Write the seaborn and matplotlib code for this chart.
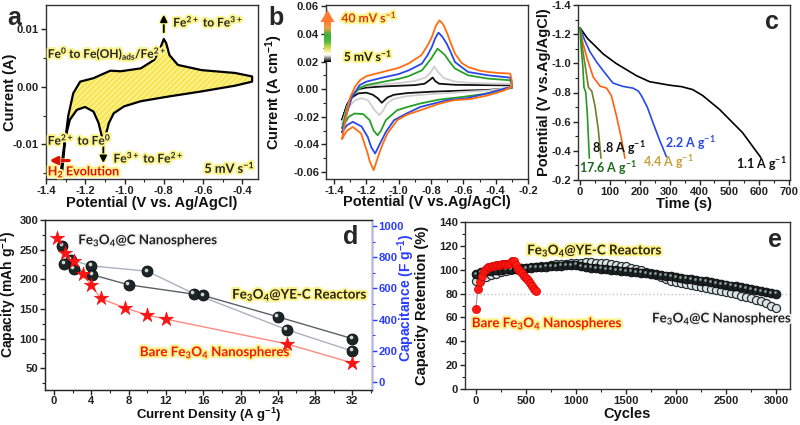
import numpy as np
import matplotlib
matplotlib.use("Agg")
import matplotlib.pyplot as plt
import matplotlib.patheffects as pe
import matplotlib.transforms as mtransforms
from matplotlib.colors import LinearSegmentedColormap
from matplotlib.patches import Polygon
from matplotlib.ticker import AutoMinorLocator, MultipleLocator, FormatStrFormatter
import seaborn as sns

# ---------------- data ----------------
# a: CV at 5 mV/s (upper branch left->right, lower branch right->left)
a_up_v = [-1.321, -1.304, -1.287, -1.261, -1.226, -1.158, -1.072, -1.020, -0.917, -0.848,
          -0.818, -0.800, -0.788, -0.771, -0.728, -0.608, -0.436, -0.350]
a_up_i = [-0.0159, -0.0098, -0.0051, -0.0011, 0.0009, 0.0015, 0.0028, 0.0027, 0.0032, 0.0047,
          0.0067, 0.0083, 0.0076, 0.0055, 0.0038, 0.0029, 0.0024, 0.0018]
a_lo_v = [-0.350, -0.436, -0.608, -0.779, -0.917, -1.003, -1.055, -1.080, -1.097, -1.106,
          -1.118, -1.132, -1.158, -1.201, -1.243, -1.278, -1.304, -1.329]
a_lo_i = [0.0009, 0.0002, -0.0008, -0.0017, -0.0025, -0.0034, -0.0046, -0.0063, -0.0086, -0.0093,
          -0.0083, -0.0063, -0.0043, -0.0035, -0.0040, -0.0057, -0.0092, -0.0159]

# b: CVs at 5..40 mV/s
b_5_v = [-1.35, -1.32, -1.29, -1.25, -1.20, -1.10, -1.00, -0.90, -0.84, -0.81, -0.79, -0.775, -0.75, -0.65, -0.50, -0.31, -0.30,
         -0.30, -0.45, -0.60, -0.80, -0.95, -1.03, -1.07, -1.105, -1.13, -1.16, -1.20, -1.25, -1.29, -1.32, -1.35]
b_5_i = [-0.022, -0.012, -0.004, 0.0, 0.0012, 0.002, 0.0025, 0.003, 0.004, 0.0065, 0.0085, 0.006, 0.004, 0.0032, 0.003, 0.0028, 0.0015,
         0.0008, -0.0005, -0.001, -0.0018, -0.0028, -0.004, -0.006, -0.0098, -0.0065, -0.004, -0.0025, -0.003, -0.006, -0.011, -0.022]
b_10_v = [-1.35, -1.32, -1.29, -1.25, -1.20, -1.10, -1.00, -0.90, -0.836, -0.80, -0.78, -0.76, -0.72, -0.65, -0.55, -0.31, -0.30,
          -0.30, -0.45, -0.60, -0.80, -0.95, -1.03, -1.07, -1.10, -1.12, -1.15, -1.19, -1.23, -1.27, -1.31, -1.35]
b_10_i = [-0.025, -0.013, -0.004, 0.0008, 0.0025, 0.0035, 0.0045, 0.006, 0.0084, 0.0125, 0.0166, 0.013, 0.008, 0.0055, 0.0045, 0.0038, 0.002,
          0.0012, -0.001, -0.002, -0.0035, -0.005, -0.007, -0.010, -0.016, -0.0188, -0.015, -0.008, -0.0065, -0.008, -0.013, -0.025]
b_20_v = [-1.35, -1.32, -1.29, -1.24, -1.20, -1.10, -1.00, -0.94, -0.856, -0.80, -0.76, -0.735, -0.713, -0.68, -0.652, -0.571, -0.448, -0.31, -0.30,
          -0.30, -0.45, -0.60, -0.75, -0.87, -0.95, -1.01, -1.08, -1.11, -1.131, -1.155, -1.18, -1.22, -1.274, -1.31, -1.35]
b_20_i = [-0.028, -0.014, -0.005, 0.001, 0.003, 0.0053, 0.0075, 0.0094, 0.0137, 0.022, 0.0294, 0.027, 0.0246, 0.019, 0.015, 0.0101, 0.0077, 0.0065, 0.003,
          0.0015, -0.003, -0.0055, -0.0075, -0.0104, -0.013, -0.0152, -0.0224, -0.030, -0.0333, -0.030, -0.0224, -0.018, -0.0176, -0.020, -0.028]
b_30_v = [-1.35, -1.32, -1.29, -1.243, -1.20, -1.10, -1.00, -0.938, -0.856, -0.82, -0.795, -0.774, -0.754, -0.73, -0.703, -0.675, -0.652, -0.571, -0.448, -0.31, -0.30,
          -0.30, -0.45, -0.58, -0.703, -0.866, -0.95, -1.029, -1.08, -1.10, -1.146, -1.17, -1.192, -1.23, -1.284, -1.32, -1.35]
b_30_i = [-0.031, -0.017, -0.006, 0.0029, 0.0055, 0.0084, 0.011, 0.0137, 0.0186, 0.025, 0.0306, 0.037, 0.041, 0.038, 0.033, 0.026, 0.0197, 0.0125, 0.0101, 0.0084, 0.004,
          0.0018, -0.003, -0.0065, -0.008, -0.0128, -0.0175, -0.0224, -0.031, -0.0357, -0.0465, -0.042, -0.0345, -0.027, -0.0236, -0.026, -0.031]
b_40_v = [-1.35, -1.33, -1.30, -1.27, -1.24, -1.20, -1.10, -1.00, -0.94, -0.86, -0.82, -0.795, -0.77, -0.748, -0.725, -0.703, -0.68, -0.652, -0.61, -0.571, -0.50, -0.448, -0.38, -0.31, -0.30,
          -0.30, -0.35, -0.45, -0.55, -0.662, -0.75, -0.866, -0.95, -1.009, -1.07, -1.10, -1.121, -1.155, -1.18, -1.192, -1.233, -1.284, -1.32, -1.351]
b_40_i = [-0.036, -0.022, -0.006, 0.002, 0.0065, 0.0095, 0.0125, 0.0155, 0.0186, 0.0246, 0.032, 0.0378, 0.046, 0.0499, 0.047, 0.0414, 0.034, 0.0258, 0.019, 0.0161, 0.0135, 0.0125, 0.0118, 0.0113, 0.006,
          0.002, -0.001, -0.0045, -0.007, -0.008, -0.0105, -0.0152, -0.0185, -0.0224, -0.032, -0.040, -0.0465, -0.0586, -0.052, -0.0465, -0.032, -0.0273, -0.030, -0.0357]

# c: discharge curves
c_11_t = [0, 25, 50, 77, 120, 189, 233, 300, 340, 377, 410, 467, 544, 605]
c_11_v = [-1.243, -1.17, -1.12, -1.065, -1.0, -0.915, -0.874, -0.85, -0.84, -0.82, -0.78, -0.684, -0.525, -0.355]
c_22_t = [0, 15, 33, 55, 77, 110, 143, 177, 195, 205, 225, 244, 265, 289]
c_22_v = [-1.243, -1.16, -1.08, -1.01, -0.95, -0.865, -0.842, -0.83, -0.81, -0.78, -0.70, -0.594, -0.48, -0.36]
c_44_t = [0, 8, 22, 44, 67, 89, 105, 122, 139, 150]
c_44_v = [-1.243, -1.15, -1.044, -0.906, -0.843, -0.83, -0.777, -0.638, -0.477, -0.35]
c_88_t = [0, 8, 17, 28, 39, 50, 61, 70]
c_88_v = [-1.243, -1.10, -0.985, -0.835, -0.81, -0.707, -0.546, -0.35]
c_176_t = [0, 4, 9, 13, 19, 24, 31]
c_176_v = [-1.243, -1.10, -0.985, -0.835, -0.80, -0.66, -0.35]

# d: rate capability
d_bare_x = [0.3, 1.2, 2.1, 3.1, 4.0, 5.0, 7.6, 10.0, 12.0, 25.0, 32.0]
d_bare_y = [270, 244, 231, 210, 190, 168, 152, 140, 133, 91, 59]
d_light_x = [0.9, 1.8, 4.0, 10.0, 15.0, 25.0, 32.0]
d_light_y = [257, 233, 223, 214, 176, 115, 79]
d_dark_x = [1.1, 2.1, 4.1, 8.0, 16.0, 24.0, 32.0]
d_dark_y = [226, 218, 208, 191, 173, 137, 100]

# e: cycling (every 50 cycles for the carbon samples, every 20 for bare)
e_cyc = list(range(0, 3001, 50))
e_yec = [96, 98, 98.8, 99.3, 99.7, 100, 100.3, 100.6, 100.9, 101.2, 101.5, 101.8, 102, 102.3, 102.6, 102.9,
         103.2, 103.5, 103.8, 104, 104.2, 103, 102.3, 101.8, 101.3, 100.9, 100.5, 100.1, 99.7, 99.3, 98.9,
         98.5, 98, 97.5, 97, 96.5, 96, 95.5, 95, 94.4, 93.8, 93.2, 92.6, 92, 91.4, 90.8, 90.2, 89.5, 88.8,
         88.1, 87.4, 86.7, 86, 85.2, 84.4, 83.6, 82.8, 82, 81.2, 80.5, 80]
e_cns = [90.5, 92.5, 94, 95.5, 96.8, 97.8, 98.7, 99.5, 100.2, 100.8, 101.4, 102, 102.5, 103, 103.5, 104,
         104.4, 104.8, 105.2, 105.5, 105.8, 106, 106.2, 106.2, 106, 105.7, 105.3, 104.8, 104.2, 103.5, 102.7,
         101.8, 100.8, 99.6, 98.5, 97, 95.5, 93.5, 91.8, 90.5, 89.5, 88.7, 88, 87.3, 86.6, 85.8, 85, 84.2,
         83.3, 82.3, 81.3, 80.3, 79.3, 78.3, 77.3, 76.1, 74.8, 73.4, 71.8, 70, 68]
e_bare_cyc = list(range(0, 601, 20))
e_bare = [67, 84, 90, 95, 99, 101, 102, 102.5, 103, 103.3, 103.6, 103.9, 104.2, 104.4, 104.6, 104.8,
          105, 105.5, 107, 107.5, 104, 101, 99, 97, 95, 93, 91, 89, 86.5, 84, 82]

# ---------------- style ----------------
sns.set_style("ticks")
plt.rcParams['font.family'] = ['Liberation Sans', 'DejaVu Sans']
plt.rcParams['font.weight'] = 'bold'
plt.rcParams['axes.labelweight'] = 'bold'
plt.rcParams['mathtext.default'] = 'regular'
plt.rcParams['axes.unicode_minus'] = False

ANN = ['Lato', 'DejaVu Sans']
glow = [pe.withStroke(linewidth=3, foreground='#fbf38c')]
wglow = [pe.withStroke(linewidth=3, foreground='#f4f4f4')]
TICK = 8.1
LAB = 10.5

fig = plt.figure(figsize=(8, 4.25), dpi=100)


def box(l, t, r, b):
    return [l / 800, 1 - b / 425, (r - l) / 800, (b - t) / 425]


def style(ax, xlab, ylab, xc, yc):
    for s in ax.spines.values():
        s.set_linewidth(1.0)
        s.set_color('#333333')
    ax.tick_params(which='major', direction='out', length=3.5, width=1, labelsize=TICK, pad=1.5, colors='#222222')
    ax.tick_params(which='minor', direction='out', length=2, width=0.8, colors='#222222')
    ax.xaxis.set_minor_locator(AutoMinorLocator(2))
    ax.yaxis.set_minor_locator(AutoMinorLocator(2))
    ax.set_xlabel(xlab, fontsize=LAB, color='#111111')
    ax.set_ylabel(ylab, fontsize=LAB, color='#111111')
    ax.xaxis.set_label_coords(0.5, xc)
    ax.yaxis.set_label_coords(yc, 0.5)
    ax.xaxis.label.set_va('center')
    ax.yaxis.label.set_va('center')


# ---------------- a ----------------
ax = fig.add_axes(box(46, 5, 258, 179))
ax.fill(a_up_v + a_lo_v, a_up_i + a_lo_i, facecolor='#f7e653', edgecolor='#fff3a0',
        hatch='//////', linewidth=0)
sns.lineplot(x=a_up_v + a_lo_v + a_up_v[:1], y=a_up_i + a_lo_i + a_up_i[:1], sort=False,
             estimator=None, color='black', lw=1.6, ax=ax)
ax.set_xlim(-1.40, -0.32)
ax.set_ylim(-0.016, 0.0142)
ax.xaxis.set_major_locator(MultipleLocator(0.2))
ax.yaxis.set_major_locator(MultipleLocator(0.01))
ax.xaxis.set_major_formatter(FormatStrFormatter('%.1f'))
ax.yaxis.set_major_formatter(FormatStrFormatter('%.2f'))
style(ax, 'Potential (V vs. Ag/AgCl)', 'Current (A)', -0.14, -0.17)
ax.annotate('', xy=(-0.80, 0.0130), xytext=(-0.80, 0.0090),
            arrowprops=dict(arrowstyle='-|>', color='black', lw=1.3, mutation_scale=10, path_effects=glow))
ax.annotate('', xy=(-1.108, -0.0137), xytext=(-1.108, -0.0097),
            arrowprops=dict(arrowstyle='-|>', color='black', lw=1.3, mutation_scale=10, path_effects=glow))
ax.annotate('', xy=(-1.397, -0.0128), xytext=(-1.268, -0.0128),
            arrowprops=dict(arrowstyle='-|>', color='#d81010', lw=2.2, mutation_scale=11, path_effects=glow))
ax.text(-0.752, 0.0113, 'Fe$^{2+}$ to Fe$^{3+}$', family=ANN, fontsize=8.6, weight='bold', va='center', path_effects=glow)
ax.text(-1.391, 0.0057, 'Fe$^{0}$ to Fe(OH)$_{ads}$/Fe$^{2+}$', family=ANN, fontsize=8.6, weight='bold', va='center', path_effects=glow)
ax.text(-1.391, -0.0092, 'Fe$^{2+}$ to Fe$^{0}$', family=ANN, fontsize=8.6, weight='bold', va='center', path_effects=glow)
ax.text(-1.056, -0.0123, 'Fe$^{3+}$ to Fe$^{2+}$', family=ANN, fontsize=8.6, weight='bold', va='center', path_effects=glow)
ax.text(-1.391, -0.0147, 'H$_2$ Evolution', family=ANN, fontsize=9, weight='bold', va='center', color='#e01010', path_effects=glow)
ax.text(-0.335, -0.0139, '5 mV s$^{-1}$', family=ANN, fontsize=9.2, weight='bold', va='center', ha='right', path_effects=glow)
fig.text(14 / 800, 1 - 18 / 425, 'a', fontsize=18, weight='bold', ha='center', va='center')

# ---------------- b ----------------
ax = fig.add_axes(box(326, 5, 528, 179))
b_sets = [(b_5_v, b_5_i, '#111111'), (b_10_v, b_10_i, '#cfcfcf'), (b_20_v, b_20_i, '#27a027'),
          (b_30_v, b_30_i, '#2a48e6'), (b_40_v, b_40_i, '#ff6d12')]
for xv, yv, col in b_sets:
    sns.lineplot(x=xv, y=yv, sort=False, estimator=None, color=col, lw=1.3, ax=ax)
ax.set_xlim(-1.45, -0.2)
ax.set_ylim(-0.065, 0.061)
ax.xaxis.set_major_locator(MultipleLocator(0.2))
ax.yaxis.set_major_locator(MultipleLocator(0.02))
ax.xaxis.set_major_formatter(FormatStrFormatter('%.1f'))
ax.yaxis.set_major_formatter(FormatStrFormatter('%.2f'))
style(ax, 'Potential (V vs.Ag/AgCl)', 'Current (A cm$^{-1}$)', -0.135, -0.255)
ax.text(-1.355, 0.052, '40 mV s$^{-1}$', family=ANN, fontsize=8.8, weight='bold', va='center', color='#d83a0a', path_effects=glow)
ax.text(-1.34, 0.024, '5 mV s$^{-1}$', family=ANN, fontsize=8.8, weight='bold', va='center', color='#1e1e08', path_effects=glow)
grad_ax = fig.add_axes(box(324, 21, 331, 62))
grad_cmap = LinearSegmentedColormap.from_list('g', ['#ff7a30', '#f0a040', '#38b038', '#50b840', '#e0e050', '#ffffff', '#000000'])
grad_ax.imshow(np.linspace(0, 1, 64).reshape(-1, 1), cmap=grad_cmap, aspect='auto')
grad_ax.axis('off')
head = [(320.5 / 800, 1 - 22 / 425), (334.5 / 800, 1 - 22 / 425), (327.5 / 800, 1 - 10 / 425)]
fig.patches.append(Polygon(head, closed=True, transform=fig.transFigure, facecolor='#ff7a30', edgecolor='none'))
fig.text(276 / 800, 1 - 18 / 425, 'b', fontsize=18, weight='bold', ha='center', va='center')

# ---------------- c ----------------
ax = fig.add_axes(box(578, 5, 790, 180))
c_sets = [(c_11_t, c_11_v, '#000000'), (c_22_t, c_22_v, '#2a48e6'), (c_44_t, c_44_v, '#ff6010'),
          (c_88_t, c_88_v, '#7a7a28'), (c_176_t, c_176_v, '#229a22')]
for xv, yv, col in c_sets:
    sns.lineplot(x=xv, y=yv, sort=False, estimator=None, color=col, lw=1.2, ax=ax)
ax.set_xlim(-7, 703)
ax.set_ylim(-0.2, -1.4)
ax.xaxis.set_major_locator(MultipleLocator(100))
ax.yaxis.set_major_locator(MultipleLocator(0.2))
ax.yaxis.set_major_formatter(FormatStrFormatter('%.1f'))
style(ax, 'Time (s)', 'Potential (V vs.Ag/AgCl)', -0.135, -0.16)
ax.text(40, -0.42, '8 .8 A g$^{-1}$', family=ANN, fontsize=9, weight='bold', va='center', color='#111111')
ax.text(-5, -0.28, '17.6 A g$^{-1}$', family=ANN, fontsize=9, weight='bold', va='center', color='#1f6a1f')
ax.text(210, -0.32, '4.4 A g$^{-1}$', family=ANN, fontsize=9, weight='bold', va='center', color='#c8a040')
ax.text(283, -0.45, '2.2 A g$^{-1}$', family=ANN, fontsize=9, weight='bold', va='center', color='#2a48e6')
ax.text(523, -0.31, '1.1 A g$^{-1}$', family=ANN, fontsize=9, weight='bold', va='center', color='#111111')
ax.text(0.915, 0.905, 'c', transform=ax.transAxes, fontsize=18, weight='bold', ha='center', va='center')

# ---------------- d ----------------
ax = fig.add_axes(box(45, 220, 372, 390))
hl = mtransforms.offset_copy(ax.transData, fig=fig, x=-1.2, y=1.2, units='points')
sns.lineplot(x=d_bare_x, y=d_bare_y, sort=False, estimator=None, color='#ff8a80', lw=1.0, ax=ax)
sns.lineplot(x=d_light_x, y=d_light_y, sort=False, estimator=None, color='#aab2bf', lw=1.0, ax=ax)
sns.lineplot(x=d_dark_x, y=d_dark_y, sort=False, estimator=None, color='#5c6066', lw=1.0, ax=ax)
for xv, yv in [(d_light_x, d_light_y), (d_dark_x, d_dark_y)]:
    sns.scatterplot(x=xv, y=yv, s=62, color='#1d2626', edgecolor='#0c0c0c', linewidth=0.6, ax=ax, zorder=3)
    ax.scatter(xv, yv, s=7, color='#cfd8d8', transform=hl, zorder=4, linewidths=0)
sns.scatterplot(x=d_bare_x, y=d_bare_y, s=120, marker='*', color='#ff1414', edgecolor='#e00000', linewidth=0.3, ax=ax, zorder=5)
ax.set_xlim(-0.97, 34.1)
ax.set_ylim(13.3, 300.5)
ax.xaxis.set_major_locator(MultipleLocator(4))
ax.yaxis.set_major_locator(MultipleLocator(50))
style(ax, 'Current Density (A g$^{-1}$)', 'Capacity (mAh g$^{-1}$)', -0.144, -0.112)
ax.tick_params(axis='x', pad=1)
ax.tick_params(axis='y', pad=1.2)
ax.xaxis.label.set_fontsize(9.5)
ax.yaxis.label.set_fontsize(10)
ax.yaxis.set_label_coords(-0.112, 0.56)
ax.text(2.6, 267, 'Fe$_3$O$_4$@C Nanospheres', family=ANN, fontsize=9.6, weight='bold', va='center', color='#222222', path_effects=wglow)
ax.text(19.1, 175, 'Fe$_3$O$_4$@YE-C Reactors', family=ANN, fontsize=9.6, weight='bold', va='center', color='#2e2410', path_effects=glow)
ax.text(9.2, 77, 'Bare Fe$_3$O$_4$ Nanospheres', family=ANN, fontsize=9.6, weight='bold', va='center', color='#f01c0c', path_effects=glow)
ax.text(0.936, 0.90, 'd', transform=ax.transAxes, fontsize=18, weight='bold', ha='center', va='center')
ax2 = ax.twinx()
ax2.set_ylim(-50.6, 1038)
ax2.yaxis.set_major_locator(MultipleLocator(200))
ax2.yaxis.set_minor_locator(AutoMinorLocator(2))
ax2.tick_params(which='major', direction='out', length=3.5, width=1, labelsize=TICK, pad=1.2, colors='#2a3cff')
ax2.tick_params(which='minor', direction='out', length=2, width=0.8, colors='#2a3cff')
ax2.spines['right'].set_color('#a8b4ff')
ax2.set_ylabel('Capacitance (F g$^{-1}$)', fontsize=10, color='#2a3cff')
ax2.yaxis.set_label_coords(1.106, 0.54)
ax2.yaxis.label.set_va('center')

# ---------------- e ----------------
ax = fig.add_axes(box(465, 222, 790, 389))
hl = mtransforms.offset_copy(ax.transData, fig=fig, x=-0.9, y=0.9, units='points')
ax.axhline(80, color='#c4c4c4', ls=':', lw=1.0, zorder=0)
sns.scatterplot(x=e_cyc, y=e_cns, s=34, color='#dde5e5', edgecolor='#263030', linewidth=0.9, ax=ax, zorder=3)
sns.scatterplot(x=e_cyc, y=e_yec, s=40, color='#1b2222', edgecolor='#080808', linewidth=0.6, ax=ax, zorder=4)
ax.scatter(e_cyc, e_yec, s=4, color='#8a9a9a', transform=hl, zorder=5, linewidths=0)
sns.lineplot(x=e_bare_cyc, y=e_bare, sort=False, estimator=None, color='#9a9a9a', lw=0.8, ax=ax, zorder=5)
sns.scatterplot(x=e_bare_cyc, y=e_bare, s=34, color='#ff1a14', edgecolor='#d00000', linewidth=0.5, ax=ax, zorder=6)
ax.set_xlim(-108, 3138)
ax.set_ylim(0, 140)
ax.xaxis.set_major_locator(MultipleLocator(500))
ax.yaxis.set_major_locator(MultipleLocator(20))
style(ax, 'Cycles', 'Capacity Retention (%)', -0.15, -0.133)
ax.text(513, 116.5, 'Fe$_3$O$_4$@YE-C Reactors', family=ANN, fontsize=9.6, weight='bold', va='center', color='#2e2410', path_effects=glow)
ax.text(-40, 55, 'Bare Fe$_3$O$_4$ Nanospheres', family=ANN, fontsize=9.6, weight='bold', va='center', color='#f01c0c', path_effects=glow)
ax.text(1760, 59.5, 'Fe$_3$O$_4$@C Nanospheres', family=ANN, fontsize=9.6, weight='bold', va='center', color='#222222', path_effects=wglow)
ax.text(0.954, 0.89, 'e', transform=ax.transAxes, fontsize=18, weight='bold', ha='center', va='center')

fig.savefig('out.png', dpi=100, facecolor='white')
